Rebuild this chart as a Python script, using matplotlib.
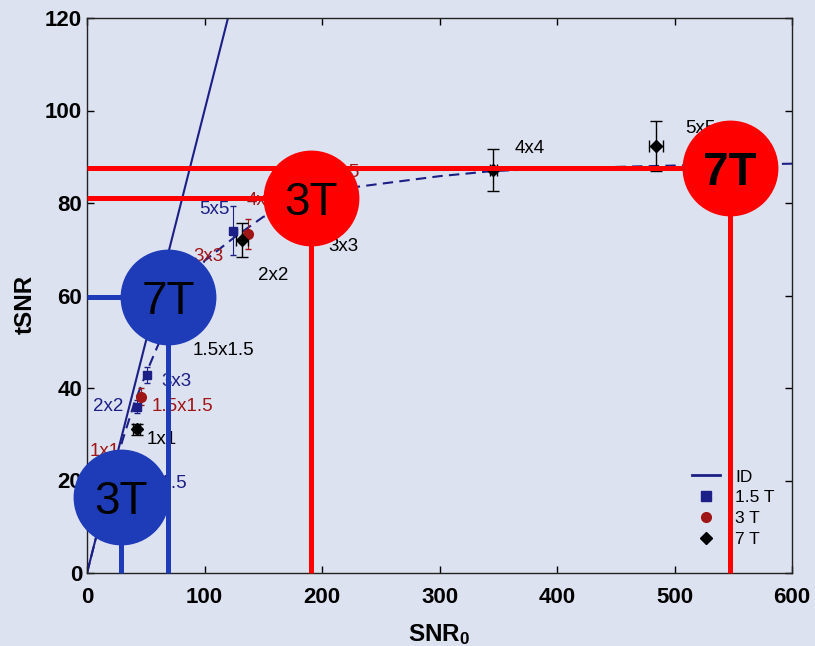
import matplotlib
matplotlib.use("Agg")
import matplotlib.pyplot as plt
from matplotlib.lines import Line2D

plt.rcParams['font.family'] = ['Liberation Sans', 'DejaVu Sans']
plt.rcParams['mathtext.fontset'] = 'custom'
plt.rcParams['mathtext.rm'] = 'Liberation Sans'
plt.rcParams['mathtext.bf'] = 'Liberation Sans:bold'

BG = '#dde2f0'
NAVY = '#1b1f86'
DRED = '#a01515'

# identity line
id_x = [0, 120]
id_y = [0, 120]

# dashed model curve
fit_x = [0, 10, 20, 30, 40, 50, 60, 70, 80, 100, 125, 150, 190, 230, 300, 345, 400, 500, 600]
fit_y = [0, 10, 19.5, 28.5, 36.5, 43, 49, 54.5, 59, 67.5, 72.5, 77, 80.8, 83.5, 85.8, 86.9, 87.5, 88.1, 88.5]

# 1.5 T
t15_x = [22, 42.8, 50.7, 124.5, 196]
t15_y = [21, 36.0, 42.8, 74.0, 83]
t15_yerr = [1.0, 1.5, 1.8, 5.3, 1.0]
t15_xerr = [1.0, 1.5, 2.0, 3.0, 1.0]

# 3 T
t3_x = [25, 46.0, 137.3, 190, 200]
t3_y = [23, 38.1, 73.3, 80.5, 82]
t3_yerr = [1.0, 1.8, 3.2, 1.0, 1.0]
t3_xerr = [1.0, 1.5, 2.5, 1.0, 1.0]

# 7 T
t7_x = [42.2, 70, 131.6, 185, 345.8, 484.3]
t7_y = [31.1, 57, 72.0, 80, 87.1, 92.3]
t7_yerr = [1.2, 1.0, 3.6, 1.0, 4.6, 5.4]
t7_xerr = [3.0, 1.0, 5.0, 1.0, 3.0, 6.0]

# point labels: (text, x, y, ha)
lab_t7 = [('1x1', 51.1, 28.8, 'left'), ('1.5x1.5', 90.2, 48.2, 'left'),
          ('2x2', 145.5, 64.4, 'left'), ('3x3', 205.1, 70.5, 'left'),
          ('4x4', 364.3, 91.7, 'left'), ('5x5', 509, 96.2, 'left')]
lab_t15 = [('2x2', 5.4, 36.0, 'left'), ('3x3', 63.6, 41.4, 'left'),
           ('5x5', 95.6, 78.6, 'left'), ('1.5x1.5', 85.0, 19.4, 'right')]
lab_t3 = [('1x1', 2.6, 26.2, 'left'), ('1.5x1.5', 55.0, 36.1, 'left'),
          ('3x3', 90.5, 68.5, 'left'), ('4x4', 136.2, 80.6, 'left'),
          ('5x5', 232, 86.7, 'right')]

# overlay markers: label, x, y, colour, bold
marks = [('3T', 28.6, 16.4, '#1e3cb8', False),
         ('7T', 69.2, 59.6, '#1e3cb8', False),
         ('3T', 190.8, 81.1, '#ff0000', False),
         ('7T', 547.2, 87.6, '#ff0000', True)]

fig = plt.figure(figsize=(8.15, 6.46), dpi=100, facecolor=BG)
ax = fig.add_axes([87 / 815, 73 / 646, 705 / 815, 555 / 646])
ax.set_facecolor(BG)

ax.plot(id_x, id_y, color=NAVY, lw=1.5, zorder=2)
ax.plot(fit_x, fit_y, color=NAVY, lw=1.5, ls=(0, (5, 3)), zorder=2)

ax.errorbar(t15_x, t15_y, yerr=t15_yerr, xerr=t15_xerr, fmt='s', color=NAVY,
            ms=6, elinewidth=0.8, capsize=2, zorder=3)
ax.errorbar(t3_x, t3_y, yerr=t3_yerr, xerr=t3_xerr, fmt='o', color=DRED,
            ms=7, elinewidth=0.8, capsize=2, zorder=3)
ax.errorbar(t7_x, t7_y, yerr=t7_yerr, xerr=t7_xerr, fmt='D', color='black',
            ms=6, elinewidth=1.0, capsize=4, zorder=3)

for labs, c in ((lab_t7, 'black'), (lab_t15, NAVY), (lab_t3, DRED)):
    for t, x, y, ha in labs:
        ax.text(x, y, t, color=c, fontsize=13.5, ha=ha, va='center', zorder=4)

ax.set_xlim(0, 600)
ax.set_ylim(0, 120)
ax.set_xticks(range(0, 601, 100))
ax.set_yticks(range(0, 121, 20))
ax.tick_params(direction='in', top=True, right=True, length=5, width=1,
               labelsize=16)
ax.tick_params(axis='x', pad=10)
ax.tick_params(axis='y', pad=3.5)
for lab in ax.get_xticklabels() + ax.get_yticklabels():
    lab.set_fontweight('bold')
for s in ax.spines.values():
    s.set_linewidth(1.0)
    s.set_color('#222222')

ax.set_xlabel(r'$\mathbf{SNR_0}$', fontsize=17.5, labelpad=10)
ax.set_ylabel('tSNR', fontsize=17.5, fontweight='bold')
ax.yaxis.set_label_coords(-0.071, 0.483)

handles = [Line2D([], [], color=NAVY, lw=2),
           Line2D([], [], marker='s', ls='none', color=NAVY, ms=7),
           Line2D([], [], marker='o', ls='none', color=DRED, ms=7),
           Line2D([], [], marker='D', ls='none', color='black', ms=6)]
ax.legend(handles, ['ID', '1.5 T', '3 T', '7 T'], loc='lower left',
          bbox_to_anchor=(0.848, 0.035), frameon=False, fontsize=12.5,
          handlelength=1.6, handletextpad=0.9, labelspacing=0.32,
          borderaxespad=0)

# overlay circles with leader lines
for t, x, y, c, bold in marks:
    ax.plot([0, x], [y, y], color=c, lw=3.6, zorder=6, solid_capstyle='butt',
            clip_on=False)
    ax.plot([x, x], [0, y], color=c, lw=3.6, zorder=6, solid_capstyle='butt',
            clip_on=False)
    ax.plot(x, y, 'o', ms=69, color=c, mew=0, zorder=7, clip_on=False)
    ax.annotate(t, (x, y), xytext=(0, -12), textcoords='offset points',
                ha='center', va='baseline', fontsize=33,
                fontweight='bold' if bold else 'normal', color='black',
                zorder=8, annotation_clip=False)

fig.savefig('out.png', dpi=100, facecolor=BG)
